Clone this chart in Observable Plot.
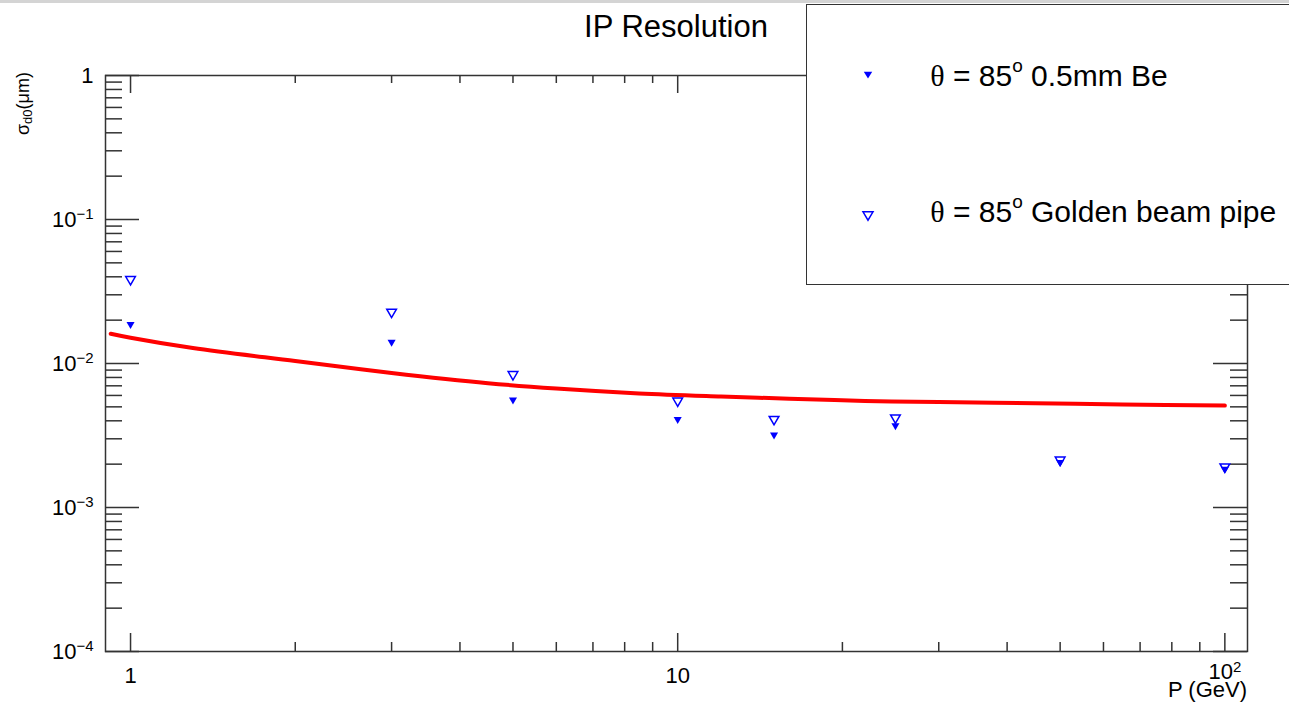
<!DOCTYPE html>
<html>
<head>
<meta charset="utf-8">
<script src="https://cdn.jsdelivr.net/npm/d3@7"></script>
<script src="https://cdn.jsdelivr.net/npm/@observablehq/plot@0.6"></script>
<style>
  html, body { margin: 0; padding: 0; background: #fff; overflow: hidden; }
  #wrap { position: relative; width: 1289px; height: 707px; font-family: "Liberation Sans", Arial, sans-serif; color: #000; }
  #topbar { position: absolute; left: 0; top: 0; width: 1289px; height: 3px; background: #d4d4d4; }
  #chart { position: absolute; left: 0; top: 0; }
  #title { position: absolute; left: 476px; width: 400px; top: 11px; text-align: center; font-size: 31px; line-height: 31px; }
  #ylab { position: absolute; left: 13px; top: 72px; height: 80px; writing-mode: vertical-rl; transform: rotate(180deg); text-align: right; font-size: 18px; line-height: 20px; white-space: nowrap; }
  #ylab sub { font-size: 13px; }
  #xlab { position: absolute; left: 1047px; width: 200px; top: 679px; text-align: right; font-size: 22px; line-height: 22px; }
  #legend { position: absolute; left: 806px; top: 4px; width: 520px; height: 279px; border: 1.5px solid #333; background: #fff; }
  .ltext { position: absolute; font-size: 30px; line-height: 30px; white-space: nowrap; }
  .ltext sup { font-size: 19px; vertical-align: 14px; line-height: 0; }
  .ltext .th { font-family: "Liberation Serif", serif; }
  .lsym { position: absolute; }
</style>
</head>
<body>
<div id="wrap">
  <div id="topbar"></div>
  <div id="chart"></div>
  <div id="title">IP Resolution</div>
  <div id="ylab">σ<sub>d0</sub>(μm)</div>
  <div id="xlab">P (GeV)</div>
  <div id="legend"></div>
</div>
<script>
// ---- data ----
const momenta = [1, 3, 5, 10, 15, 25, 50, 100];                 // P (GeV)
const sigmaBe = [0.0187, 0.0141, 0.0056, 0.0041, 0.0032, 0.0037, 0.00206, 0.00185];       // θ = 85° 0.5mm Be
const sigmaGold = [0.0384, 0.0228, 0.0084, 0.0055, 0.0041, 0.0042, 0.00214, 0.00192];     // θ = 85° Golden beam pipe
const curveP = [0.92, 1, 1.3, 2, 3, 4.5, 6, 8.5, 12, 16, 22, 30, 45, 65, 100];             // fit curve P
const curveSigma = [0.0161, 0.0151, 0.0128, 0.0104, 0.0086, 0.0073, 0.0067, 0.0062, 0.0059, 0.0057, 0.0055, 0.0054, 0.0053, 0.0052, 0.0051];

const xMajor = [1, 10, 100];
const xMinor = [2, 3, 4, 5, 6, 7, 8, 9, 20, 30, 40, 50, 60, 70, 80, 90];
const xLabels = ["1", "10", "10²"];
const yMajor = [1e-4, 1e-3, 1e-2, 1e-1, 1];
const yMinor = [2e-4, 3e-4, 4e-4, 5e-4, 6e-4, 7e-4, 8e-4, 9e-4,
                2e-3, 3e-3, 4e-3, 5e-3, 6e-3, 7e-3, 8e-3, 9e-3,
                2e-2, 3e-2, 4e-2, 5e-2, 6e-2, 7e-2, 8e-2, 9e-2,
                0.2, 0.3, 0.4, 0.5, 0.6, 0.7, 0.8, 0.9];
const yLabels = ["10⁻⁴", "10⁻³", "10⁻²", "10⁻¹", "1"];
const legendLabels = ["0.5mm Be", "Golden beam pipe"];

const be = momenta.map((p, i) => ({p, s: sigmaBe[i]}));
const gold = momenta.map((p, i) => ({p, s: sigmaGold[i]}));
const fit = curveP.map((p, i) => ({p, s: curveSigma[i]}));

const W = 1289, H = 707, mL = 105, mR = 42, mT = 75, mB = 56;
const iw = W - mL - mR, ih = H - mT - mB;
const tickStyle = {stroke: "#333", strokeWidth: 1.5};

const chart = Plot.plot({
  width: W, height: H,
  marginLeft: mL, marginRight: mR, marginTop: mT, marginBottom: mB,
  x: {type: "log", domain: [0.9, 110]},
  y: {type: "log", domain: [1e-4, 1]},
  style: {fontFamily: "'Liberation Sans', Arial, sans-serif", fontSize: "22px", color: "#000", background: "transparent"},
  marks: [
    // inward ticks (ROOT style), bottom & top
    Plot.tickX(xMajor, {x: d => d, insetTop: ih - 18, ...tickStyle}),
    Plot.tickX(xMinor, {x: d => d, insetTop: ih - 9, ...tickStyle}),
    Plot.tickX(xMajor, {x: d => d, insetBottom: ih - 18, ...tickStyle}),
    Plot.tickX(xMinor, {x: d => d, insetBottom: ih - 8, ...tickStyle}),
    // left & right
    Plot.tickY(yMajor, {y: d => d, insetRight: iw - 34, ...tickStyle}),
    Plot.tickY(yMinor, {y: d => d, insetRight: iw - 17, ...tickStyle}),
    Plot.tickY(yMajor, {y: d => d, insetLeft: iw - 34, ...tickStyle}),
    Plot.tickY(yMinor, {y: d => d, insetLeft: iw - 17, ...tickStyle}),
    Plot.frame({stroke: "#333", strokeWidth: 1.5}),
    Plot.axisX({ticks: xMajor, tickSize: 0, tickPadding: 16, tickFormat: (d) => xLabels[xMajor.indexOf(d)], label: null, fontSize: 22, fill: "#000"}),
    Plot.axisY({ticks: yMajor, tickSize: 0, tickPadding: 12, tickFormat: (d) => yLabels[yMajor.indexOf(d)], label: null, fontSize: 22, fill: "#000"}),
    Plot.line(fit, {x: "p", y: "s", stroke: "#ff0000", strokeWidth: 4, curve: "catmull-rom"}),
    Plot.dot(gold, {x: "p", y: "s", symbol: "triangle", rotate: 180, r: 3.6, fill: "none", stroke: "#0000ff", strokeWidth: 1.5}),
    Plot.dot(be, {x: "p", y: "s", symbol: "triangle", rotate: 180, r: 3, fill: "#0000ff", stroke: "none"})
  ]
});

// render exponents as raised text
const supMap = {"⁻": "−", "⁰": "0", "¹": "1", "²": "2", "³": "3", "⁴": "4"};
chart.querySelectorAll("text").forEach(t => {
  const m = t.textContent.match(/^10([⁻⁰¹²³⁴]+)$/);
  if (m) {
    const exp = [...m[1]].map(c => supMap[c]).join("");
    t.textContent = "10";
    const ts = document.createElementNS("http://www.w3.org/2000/svg", "tspan");
    ts.setAttribute("dy", "-0.5em");
    ts.setAttribute("font-size", "15px");
    ts.textContent = exp;
    t.appendChild(ts);
    if (exp === "2") {
      const tr = t.getAttribute("transform") || "";
      t.setAttribute("transform", tr + " translate(0,-4)");
    }
  }
});
document.getElementById("chart").appendChild(chart);

// legend
const legend = document.getElementById("legend");
const entries = [
  {label: legendLabels[0], filled: true, cy: 74, base: 87},
  {label: legendLabels[1], filled: false, cy: 215, base: 223}
];
const ox = 807.5, oy = 5.5;
entries.forEach(e => {
  const svgNS = "http://www.w3.org/2000/svg";
  const s = document.createElementNS(svgNS, "svg");
  s.setAttribute("width", 16); s.setAttribute("height", 16);
  s.setAttribute("class", "lsym");
  s.style.left = (868.3 - 8 - ox) + "px";
  s.style.top = (e.cy - 8 - oy) + "px";
  const poly = document.createElementNS(svgNS, "polygon");
  if (e.filled) {
    poly.setAttribute("points", "3.8,5.7 12.2,5.7 8,12.6");
    poly.setAttribute("fill", "#0000ff");
  } else {
    poly.setAttribute("points", "3,4.8 13,4.8 8,13.2");
    poly.setAttribute("fill", "none");
    poly.setAttribute("stroke", "#0000ff");
    poly.setAttribute("stroke-width", "1.5");
  }
  s.appendChild(poly);
  legend.appendChild(s);
  const t = document.createElement("div");
  t.className = "ltext";
  t.style.left = (930.7 - ox) + "px";
  t.style.top = (e.base - 25.4 - oy) + "px";
  t.innerHTML = '<span class="th">θ</span> = 85<sup>o</sup> ' + e.label;
  legend.appendChild(t);
});
</script>
</body>
</html>
